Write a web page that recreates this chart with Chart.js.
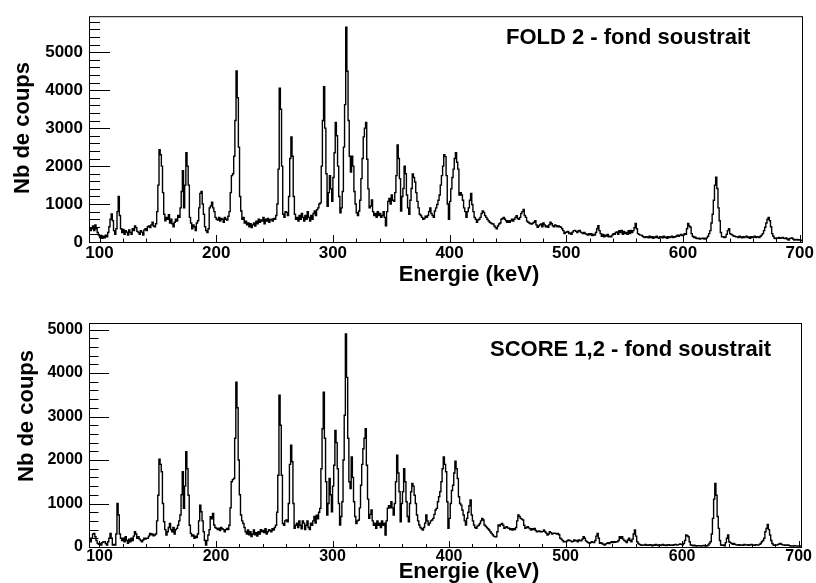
<!DOCTYPE html>
<html>
<head>
<meta charset="utf-8">
<script src="https://cdn.jsdelivr.net/npm/chart.js@4.4.1/dist/chart.umd.min.js"></script>
<style>
  html, body { margin: 0; padding: 0; background: #fff; }
  #wrap { position: relative; width: 816px; height: 583px; }
  canvas { position: absolute; left: 0; }
  #haut { top: 0; }
  #bas { top: 300px; }
</style>
</head>
<body>
<div id="wrap">
  <canvas id="haut" width="816" height="300"></canvas>
  <canvas id="bas" width="816" height="283"></canvas>
</div>
<script>
// Spectres gamma, bins de 1 keV a partir de 90 keV

const debutBin = 90;

// FOLD 2 - fond soustrait (une ligne = 10 keV)
const fold2 = [
  350, 380, 300, 350, 420, 300, 450, 350, 250, 180,        // 90
  120, 170, 100, 150, 110, 180, 140, 250, 400, 600,        // 100
  740, 560, 300, 200, 350, 800, 1200, 700, 350, 250,       // 110
  330, 200, 300, 260, 180, 320, 250, 200, 350, 300,        // 120
  420, 380, 280, 250, 200, 300, 260, 180, 320, 350,        // 130
  300, 400, 420, 380, 450, 520, 420, 400, 480, 800,        // 140
  1500, 2430, 2300, 2000, 1300, 730, 560, 650, 600, 720,   // 150
  500, 600, 480, 400, 520, 600, 550, 700, 650, 900,        // 160
  1330, 1880, 900, 1500, 2350, 2000, 1500, 650, 500, 350,  // 170
  450, 400, 300, 500, 560, 900, 1280, 1330, 1000, 730,     // 180
  400, 300, 250, 350, 900, 950, 1050, 900, 800, 650,       // 190
  600, 580, 650, 550, 620, 600, 520, 650, 600, 580,        // 200
  680, 800, 1300, 1750, 1800, 2260, 3200, 4510, 3800, 2500, // 210
  1200, 815, 600, 650, 500, 550, 450, 500, 400, 480,       // 220
  380, 450, 500, 420, 550, 480, 600, 520, 580, 550,        // 230
  650, 480, 600, 550, 620, 520, 580, 600, 550, 620,        // 240
  600, 700, 1000, 1920, 4050, 3500, 2000, 730, 650, 800,   // 250
  780, 700, 1200, 2200, 2770, 2260, 1200, 730, 600, 650,   // 260
  550, 700, 600, 750, 650, 550, 700, 600, 800, 650,        // 270
  550, 700, 600, 750, 820, 700, 850, 900, 1000, 1030,      // 280
  2000, 3200, 4090, 3000, 1800, 940, 1300, 1750, 1400, 1070, // 290
  1700, 2350, 3150, 2800, 2000, 1200, 770, 900, 1330, 2500, // 300
  3620, 5660, 4500, 3200, 2260, 1840, 2260, 2000, 1330, 1000, // 310
  770, 700, 815, 1100, 1670, 2200, 2770, 3000, 3150, 2180, // 320
  1400, 900, 950, 1110, 800, 700, 750, 650, 800, 700,      // 330
  750, 650, 700, 800, 650, 430, 800, 1070, 1150, 1000,     // 340
  1240, 1100, 1070, 1300, 1750, 2560, 2200, 1670, 815, 1200, // 350
  1410, 2000, 1800, 1240, 900, 730, 1100, 1410, 1790, 1700, // 360
  1580, 1300, 1070, 900, 730, 700, 650, 600, 620, 680,     // 370
  650, 700, 800, 900, 750, 700, 650, 815, 900, 990,        // 380
  1100, 1240, 1500, 1750, 2000, 2300, 2250, 1750, 1000, 600, // 390
  1070, 1400, 1700, 1920, 2200, 2350, 2100, 1920, 1240, 1300, // 400
  1240, 1100, 900, 800, 650, 800, 900, 1100, 1280, 990,    // 410
  800, 650, 600, 520, 580, 600, 650, 750, 815, 780,        // 420
  700, 650, 600, 560, 520, 500, 480, 475, 420, 380,        // 430
  350, 420, 475, 500, 600, 620, 650, 600, 560, 520,        // 440
  560, 520, 560, 600, 550, 600, 650, 690, 620, 600,        // 450
  650, 750, 800, 860, 700, 650, 550, 520, 500, 480,        // 460
  475, 500, 520, 560, 450, 390, 420, 450, 475, 400,        // 470
  500, 450, 400, 420, 390, 450, 520, 480, 430, 400,        // 480
  450, 430, 400, 420, 400, 390, 350, 300, 220, 250,        // 490
  265, 280, 220, 240, 200, 260, 300, 306, 280, 250,        // 500
  290, 306, 260, 240, 220, 250, 220, 200, 180, 220,        // 510
  190, 220, 170, 200, 180, 250, 350, 430, 300, 220,        // 520
  150, 200, 140, 180, 160, 200, 140, 150, 136, 180,        // 530
  220, 200, 250, 265, 200, 300, 250, 306, 200, 280,        // 540
  220, 250, 200, 300, 220, 306, 250, 300, 380, 490,        // 550
  350, 220, 200, 180, 180, 150, 130, 120, 140, 130,        // 560
  110, 150, 120, 140, 100, 130, 120, 150, 120, 100,        // 570
  140, 130, 110, 150, 120, 130, 100, 140, 120, 130,        // 580
  150, 120, 140, 130, 160, 180, 150, 180, 200, 170,        // 590
  180, 220, 200, 350, 490, 420, 390, 220, 150, 120,        // 600
  130, 100, 90, 100, 80, 93, 90, 100, 80, 93,              // 610
  110, 150, 220, 300, 500, 730, 1100, 1500, 1710, 1410,    // 620
  900, 560, 250, 136, 140, 120, 130, 200, 300, 350,        // 630
  220, 200, 180, 160, 150, 140, 136, 120, 150, 130,        // 640
  110, 140, 120, 136, 150, 120, 130, 100, 140, 120,        // 650
  130, 150, 120, 140, 130, 120, 150, 180, 220, 300,        // 660
  390, 500, 600, 650, 560, 400, 220, 150, 100, 93,         // 670
  110, 100, 120, 100, 110, 120, 100, 90, 110, 80,          // 680
  50, 90, 100, 110, 80, 50, 60, 70, 50, 60,                // 690
  50, 40, 50                                               // 700
];

// SCORE 1,2 - fond soustrait
const score12 = [
  150, 200, 120, 200, 300, 313, 237, 150, 84, 60,          // 90
  80, 46, 100, 122, 122, 80, 46, 120, 200, 313,            // 100
  200, 46, 60, 46, 300, 1000, 734, 300, 200, 150,          // 110
  200, 120, 237, 150, 84, 180, 120, 200, 150, 250,         // 120
  352, 300, 200, 237, 180, 150, 122, 160, 200, 180,        // 130
  200, 200, 250, 313, 280, 300, 260, 275, 300, 600,        // 140
  1190, 2020, 1900, 1730, 1000, 580, 400, 275, 350, 450,   // 150
  540, 400, 350, 450, 300, 400, 428, 500, 600, 734,        // 160
  1200, 1730, 890, 1400, 2190, 1800, 1190, 500, 313, 250,  // 170
  275, 200, 250, 220, 300, 600, 963, 810, 600, 352,        // 180
  150, 46, 150, 275, 400, 696, 650, 772, 505, 450,         // 190
  428, 400, 430, 380, 450, 420, 400, 352, 400, 428,        // 200
  400, 500, 900, 1500, 1550, 1575, 2500, 3790, 3200, 2000, // 210
  1200, 734, 600, 540, 450, 350, 300, 390, 280, 350,       // 220
  240, 300, 390, 280, 330, 250, 350, 300, 400, 350,        // 230
  380, 330, 420, 300, 350, 400, 380, 350, 420, 390,        // 240
  450, 500, 800, 1650, 3490, 2800, 1650, 540, 500, 600,    // 250
  620, 580, 1000, 1900, 2340, 1960, 1000, 428, 500, 550,   // 260
  450, 600, 500, 420, 600, 550, 400, 500, 600, 450,        // 270
  400, 550, 500, 600, 700, 550, 730, 650, 800, 887,        // 280
  1800, 2720, 3560, 2500, 1500, 734, 1000, 1575, 1200, 810, // 290
  1400, 1880, 2680, 2400, 1800, 1000, 505, 700, 1040, 2000, // 300
  3030, 4900, 3900, 2500, 1500, 1345, 2070, 1600, 1040, 700, // 310
  540, 600, 620, 900, 1420, 1900, 2260, 2500, 2720, 1880,  // 320
  1100, 657, 750, 850, 600, 500, 550, 430, 600, 500,       // 330
  550, 450, 600, 500, 550, 275, 600, 890, 950, 900,        // 340
  1040, 900, 734, 1000, 1500, 2110, 1700, 1270, 580, 1000, // 350
  1270, 1800, 1500, 1040, 700, 580, 1000, 1270, 1460, 1400, // 360
  1190, 1000, 734, 600, 505, 450, 420, 390, 450, 550,      // 370
  734, 600, 505, 550, 600, 620, 657, 750, 850, 887,        // 380
  1040, 1155, 1270, 1500, 1800, 2070, 1900, 1730, 1040, 428, // 390
  657, 1000, 1300, 1420, 1700, 1970, 1800, 1575, 1155, 1000, // 400
  963, 850, 734, 600, 505, 657, 800, 950, 1080, 734,       // 410
  600, 505, 450, 428, 480, 500, 540, 600, 657, 620,        // 420
  505, 480, 450, 420, 390, 350, 313, 280, 250, 237,        // 430
  237, 350, 505, 480, 520, 540, 500, 428, 450, 467,        // 440
  440, 430, 400, 420, 390, 420, 400, 450, 600, 734,        // 450
  700, 657, 640, 620, 500, 428, 450, 467, 440, 420,        // 460
  390, 420, 400, 428, 380, 352, 360, 370, 350, 352,        // 470
  360, 390, 350, 320, 275, 300, 352, 330, 300, 313,        // 480
  320, 313, 300, 313, 280, 200, 180, 150, 122, 130,        // 490
  122, 140, 160, 150, 140, 122, 130, 160, 140, 150,        // 500
  120, 160, 150, 140, 180, 237, 200, 140, 122, 100,        // 510
  84, 100, 122, 110, 100, 150, 250, 313, 200, 84,          // 520
  100, 80, 60, 46, 70, 84, 100, 80, 100, 122,              // 530
  100, 122, 110, 120, 122, 150, 237, 200, 237, 180,        // 540
  150, 130, 100, 160, 200, 150, 120, 180, 300, 390,        // 550
  250, 122, 80, 60, 46, 40, 50, 45, 60, 40,                // 560
  50, 40, 55, 45, 30, 50, 40, 60, 45, 35,                  // 570
  50, 40, 45, 60, 40, 50, 35, 45, 55, 40,                  // 580
  50, 45, 40, 55, 60, 45, 50, 60, 70, 60,                  // 590
  50, 80, 150, 275, 260, 237, 120, 46, 40, 30,             // 600
  40, 30, 20, 30, 25, 30, 20, 25, 35, 30,                  // 610
  20, 30, 46, 80, 122, 300, 657, 1100, 1460, 1190,         // 620
  700, 428, 150, 46, 40, 46, 30, 100, 200, 275,            // 630
  122, 100, 84, 60, 84, 60, 50, 45, 55, 40,                // 640
  50, 45, 40, 60, 50, 45, 55, 40, 50, 60,                  // 650
  45, 50, 40, 55, 50, 45, 60, 80, 120, 150,                // 660
  200, 350, 428, 520, 400, 275, 150, 80, 46, 40,           // 670
  50, 46, 60, 70, 84, 60, 50, 46, 40, 50,                  // 680
  46, 40, 30, 20, 25, 20, 30, 25, 20, 25,                  // 690
  20, 25, 20                                               // 700
];

const ticksEnergie = [100, 200, 300, 400, 500, 600, 700];
const ticksCoups = [0, 1000, 2000, 3000, 4000, 5000];

const police = '"Liberation Sans", Arial, Helvetica, sans-serif';

// cadre + graduations vers l'interieur, titres (style ROOT)
const cadreRoot = {
  id: 'cadreRoot',
  afterDraw(chart, args, o) {
    const { ctx, chartArea: a, scales: { x, y } } = chart;
    ctx.save();
    ctx.strokeStyle = '#000';
    ctx.lineWidth = 1;
    ctx.strokeRect(a.left + 0.5, a.top + 0.5, a.right - a.left, a.bottom - a.top);
    ctx.beginPath();
    for (let v = 100; v <= 700; v += 20) {
      const px = Math.round(x.getPixelForValue(v)) + 0.5;
      const l = v % 100 === 0 ? o.xMaj : o.xMin;
      ctx.moveTo(px, a.bottom);
      ctx.lineTo(px, a.bottom - l);
    }
    for (let v = 0; v <= y.max; v += 200) {
      const py = Math.round(y.getPixelForValue(v)) + 0.5;
      const l = v % 1000 === 0 ? o.yMaj : o.yMin;
      ctx.moveTo(a.left, py);
      ctx.lineTo(a.left + l, py);
    }
    ctx.stroke();

    ctx.fillStyle = '#000';
    ctx.font = 'bold 22px ' + police;
    ctx.textBaseline = 'alphabetic';
    ctx.textAlign = 'center';
    ctx.fillText('Energie (keV)', 469, o.xTitreY);
    ctx.textAlign = 'left';
    ctx.fillText(o.etiquette, o.etiqX, o.etiqY);
    ctx.translate(o.yTitreX, o.yTitreY);
    ctx.rotate(-Math.PI / 2);
    ctx.textAlign = 'center';
    ctx.fillText('Nb de coups', 0, 0);
    ctx.restore();
  }
};

function spectre(id, valeurs, cfg) {
  const points = valeurs.map((v, i) => ({ x: debutBin + i + 0.5, y: v }));
  return new Chart(document.getElementById(id), {
    type: 'line',
    data: {
      datasets: [{
        data: points,
        borderColor: '#000',
        borderWidth: 1.4,
        stepped: 'middle',
        pointRadius: 0,
        fill: false
      }]
    },
    options: {
      responsive: false,
      animation: false,
      devicePixelRatio: 1,
      layout: { padding: { left: 0, right: cfg.padRight, top: cfg.padTop, bottom: 0 } },
      plugins: {
        legend: { display: false },
        tooltip: { enabled: false },
        cadreRoot: cfg.cadre
      },
      scales: {
        x: {
          type: 'linear',
          min: 91,
          max: 702,
          grid: { display: false, drawTicks: false },
          border: { display: false },
          afterBuildTicks: s => { s.ticks = ticksEnergie.map(v => ({ value: v })); },
          afterFit: s => { s.height = cfg.xHauteur; },
          ticks: {
            color: '#000',
            padding: cfg.xPad,
            maxRotation: 0,
            autoSkip: false,
            callback: v => String(v),
            font: { family: police, weight: 'bold', size: cfg.taille }
          }
        },
        y: {
          min: 0,
          max: cfg.yMax,
          grid: { display: false, drawTicks: false },
          border: { display: false },
          afterBuildTicks: s => { s.ticks = ticksCoups.map(v => ({ value: v })); },
          afterFit: s => { s.width = 89; },
          ticks: {
            color: '#000',
            padding: 6,
            callback: v => String(v),
            font: { family: police, weight: 'bold', size: cfg.taille }
          }
        }
      }
    },
    plugins: [cadreRoot]
  });
}

spectre('haut', fold2, {
  yMax: 5950, padRight: 14, padTop: 8, xHauteur: 58, xPad: 1, taille: 17,
  cadre: { xMaj: 7, xMin: 3.5, yMaj: 21, yMin: 11, xTitreY: 281,
           etiquette: 'FOLD 2 - fond soustrait', etiqX: 506, etiqY: 44,
           yTitreX: 29, yTitreY: 128 }
});

spectre('bas', score12, {
  yMax: 5150, padRight: 15, padTop: 23, xHauteur: 36, xPad: 0, taille: 16,
  cadre: { xMaj: 6, xMin: 3, yMaj: 20, yMin: 9.5, xTitreY: 278,
           etiquette: 'SCORE 1,2 - fond soustrait', etiqX: 490, etiqY: 56,
           yTitreX: 33, yTitreY: 116 }
});
</script>
</body>
</html>
